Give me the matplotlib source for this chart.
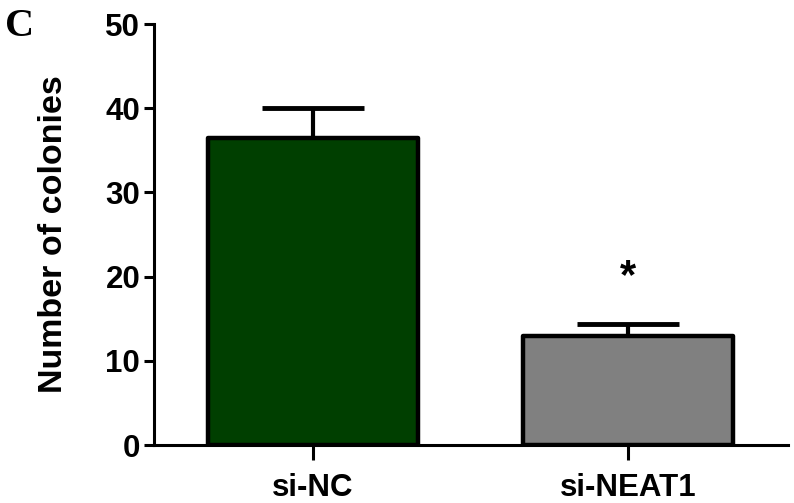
import matplotlib
matplotlib.use("Agg")
import matplotlib.pyplot as plt
import numpy as np

groups = ["si-NC", "si-NEAT1"]
means = [36.5, 13.0]
errs = [3.5, 1.4]
colors = ["#003f00", "#808080"]
star_y = 20.0

plt.rcParams["font.family"] = ["Liberation Sans", "DejaVu Sans"]
plt.rcParams["font.weight"] = "bold"

fig = plt.figure(figsize=(7.94, 5.03), dpi=100)
ax = fig.add_axes([0.194, 0.1153, 0.798, 0.8367])

x = np.arange(len(groups))
ax.bar(x, means, width=0.667, color=colors, edgecolor="black", linewidth=3.2,
       joinstyle="round", zorder=2)
ax.errorbar(x, means, yerr=[[0] * len(errs), errs], fmt="none", ecolor="black",
            elinewidth=3, capsize=37, capthick=3.5, zorder=1)
ax.text(1, star_y, "*", ha="center", va="center", fontsize=30, fontweight="bold")

ax.set_xlim(-0.505, 1.508)
ax.set_ylim(0, 50)
ax.set_yticks([0, 10, 20, 30, 40, 50])
ax.set_xticks(x)
ax.set_xticklabels(groups)

for s in ["top", "right"]:
    ax.spines[s].set_visible(False)
for s in ["left", "bottom"]:
    ax.spines[s].set_linewidth(2.2)

ax.tick_params(axis="y", length=7, width=2.2, labelsize=22.5, pad=3)
ax.tick_params(axis="x", length=11, width=2.2, labelsize=22.5, pad=9)
ax.set_ylabel("Number of colonies", fontsize=24.5, fontweight="bold", va="center")
ax.yaxis.set_label_coords(-0.159, 0.5)

fig.text(0.006, 0.985, "C", family="Liberation Serif", fontsize=29,
         fontweight="bold", va="top", ha="left")

fig.savefig("out.png", dpi=100)
